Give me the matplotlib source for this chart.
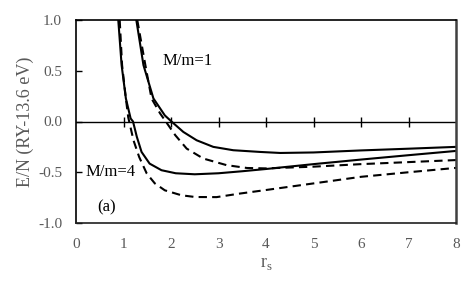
import matplotlib
matplotlib.use("Agg")
import matplotlib.pyplot as plt

plt.rcParams['font.family'] = ['Liberation Serif', 'DejaVu Serif']

# M/m = 1, solid
r_m1_solid = [1.27, 1.42, 1.63, 1.87, 2.01, 2.26, 2.54, 2.89, 3.31, 3.88, 4.3, 5.0, 6.0, 7.0, 8.0]
e_m1_solid = [1.0, 0.556, 0.227, 0.06, 0.0, -0.103, -0.185, -0.25, -0.283, -0.30, -0.31, -0.305, -0.285, -0.268, -0.25]
# M/m = 1, dashed
r_m1_dash = [1.29, 1.46, 1.59, 1.77, 1.89, 2.09, 2.33, 2.68, 3.17, 3.6, 4.0, 5.0, 6.0, 7.0, 8.0]
e_m1_dash = [1.0, 0.556, 0.227, 0.08, 0.0, -0.135, -0.267, -0.365, -0.43, -0.458, -0.462, -0.445, -0.42, -0.40, -0.38]
# M/m = 4, solid
r_m4_solid = [0.89, 0.96, 1.05, 1.15, 1.20, 1.28, 1.38, 1.55, 1.80, 2.10, 2.50, 3.0, 3.5, 4.0, 5.0, 6.0, 7.0, 8.0]
e_m4_solid = [1.0, 0.556, 0.227, 0.03, 0.0, -0.15, -0.30, -0.415, -0.48, -0.51, -0.52, -0.51, -0.49, -0.468, -0.42, -0.375, -0.332, -0.29]
# M/m = 4, dashed
r_m4_dash = [0.92, 0.97, 1.05, 1.10, 1.12, 1.21, 1.33, 1.49, 1.66, 1.87, 2.22, 2.51, 2.96, 3.45, 4.0, 5.0, 6.0, 7.0, 8.0]
e_m4_dash = [1.0, 0.556, 0.227, 0.04, 0.0, -0.185, -0.35, -0.513, -0.61, -0.678, -0.727, -0.744, -0.745, -0.71, -0.675, -0.61, -0.545, -0.50, -0.457]

xticks = [0, 1, 2, 3, 4, 5, 6, 7, 8]
yticks = [-1.0, -0.5, 0.0, 0.5, 1.0]
ytick_labels = ["-1.0", "-0.5", "0.0", "0.5", "1.0"]

fig = plt.figure(figsize=(4.74, 2.82), dpi=100)
ax = fig.add_axes([76/474, 1 - 223/282, (456-76)/474, (223-20)/282])

gray = '#595959'
ax.axhline(0, color='black', lw=1.0, zorder=1)
inner = xticks[1:-1]
ax.plot(inner, [0]*len(inner), ls='none', marker='|', ms=7, mew=1.0, color='black', zorder=1)

lw = 1.5
dash = (0, (4, 2.5))
ax.plot(r_m1_solid, e_m1_solid, color='black', lw=lw, solid_joinstyle='round')
ax.plot(r_m1_dash, e_m1_dash, color='black', lw=lw, ls=dash)
ax.plot(r_m4_solid, e_m4_solid, color='black', lw=lw, solid_joinstyle='round')
ax.plot(r_m4_dash, e_m4_dash, color='black', lw=lw, ls=dash)

ax.set_xlim(0, 8)
ax.set_ylim(-1, 1)
ax.set_xticks(xticks)
ax.set_xticklabels([str(t) for t in xticks])
ax.set_yticks(yticks)
ax.set_yticklabels(ytick_labels)
ax.tick_params(axis='x', length=0, pad=11, labelsize=11, labelcolor=gray)
ax.tick_params(axis='y', direction='in', length=4, width=1, pad=10, labelsize=11, labelcolor=gray)

ax.spines['left'].set_color('black')
ax.spines['top'].set_color('black')
ax.spines['right'].set_color('#404040')
ax.spines['bottom'].set_color('#202020')
for s in ax.spines.values():
    s.set_linewidth(1.2)
ax.spines['right'].set_linewidth(1.8)

ax.text(1.83, 0.595, "M/m=1", fontsize=12, ha='left', va='center')
ax.text(0.21, -0.50, "M/m=4", fontsize=12, ha='left', va='center')
ax.text(0.44, -0.85, "(a)", fontsize=12, ha='left', va='center')

ax.set_ylabel("E/N (RY-13.6 eV)", fontsize=13, color=gray, labelpad=3)
ax.set_xlabel(r"r$_\mathregular{s}$", fontsize=13, color=gray, labelpad=3)

fig.savefig("out.png", dpi=100)
